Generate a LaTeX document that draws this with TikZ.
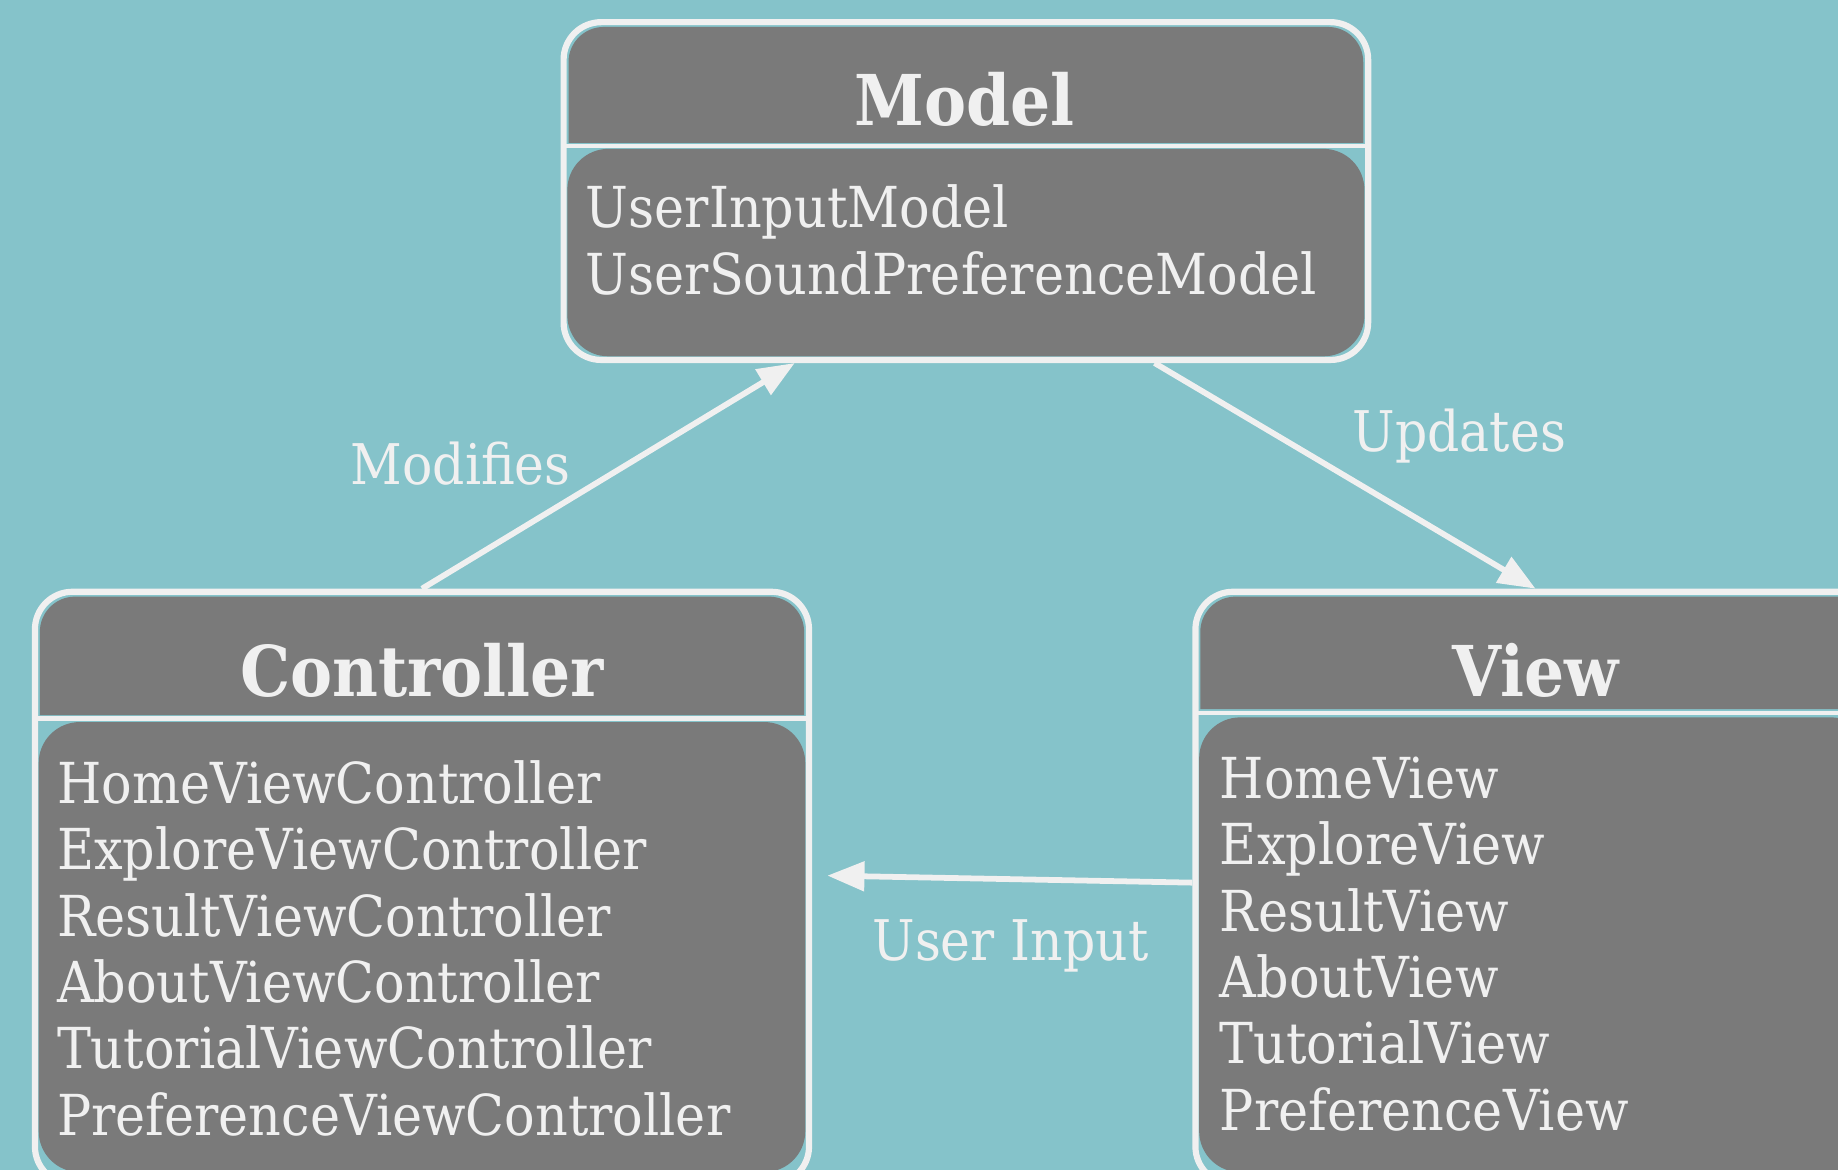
\documentclass[tikz,border=0pt]{standalone}
\usepackage{fontspec}
\setmainfont{DejaVu Serif}[FakeStretch=0.9]
\usetikzlibrary{arrows.meta,calc}

\definecolor{bgteal}{HTML}{85C3CA}
\definecolor{boxgray}{HTML}{7A7A7A}
\definecolor{chalk}{HTML}{F0F0F0}

\tikzset{
  classframe/.style={draw=chalk, line width=1.5pt, rounded corners=0.32cm, inner sep=0pt},
  classtitle/.style={text=chalk, font=\fontsize{17}{20}\selectfont\bfseries},
  classlist/.style={text=chalk, inner sep=0pt, anchor=north west, align=left,
    font=\fontsize{13.7}{16.1}\selectfont},
  flow/.style={draw=chalk, line width=1.4pt, -{Triangle[length=9pt,width=7pt]}},
  flowlabel/.style={text=chalk, anchor=base, font=\fontsize{13.6}{16}\selectfont}
}

\begin{document}
\begin{tikzpicture}[x=0.01cm, y=-0.01cm]
  % background
  \fill[bgteal] (0,0) rectangle (1568,998);
  \useasboundingbox (0,0) rectangle (1568,998);

  % Model
  \fill[boxgray, rounded corners=0.3cm] (485,122) -- (485,23) -- (1163,23) -- (1163,122);
  \fill[boxgray, rounded corners=0.35cm] (484,127) rectangle (1164,304);
  \node[classframe, minimum width=6.86cm, minimum height=2.88cm] (model) at (824,163) {};
  \draw[chalk, line width=1pt] (481,124.5) -- (1167,124.5);
  \node[classtitle] (modelttl) at (823,85) {Model};
  \node[classlist] (modellist) at (499,157) {UserInputModel\\UserSoundPreferenceModel};

  % Controller
  \fill[boxgray, rounded corners=0.3cm] (34,610) -- (34,509) -- (686,509) -- (686,610);
  \fill[boxgray, rounded corners=0.35cm] (33,616) rectangle (687,1000);
  \node[classframe, minimum width=6.60cm, minimum height=5.05cm] (ctrl) at (360,757.5) {};
  \draw[chalk, line width=1pt] (30,613) -- (690,613);
  \node[classtitle] (ctrlttl) at (360,572) {Controller};
  \node[classlist] (ctrllist) at (48,648) {HomeViewController\\ExploreViewController\\ResultViewController\\AboutViewController\\TutorialViewController\\PreferenceViewController};

  % View
  \fill[boxgray, rounded corners=0.3cm] (1024,605) -- (1024,509) -- (1596,509) -- (1596,605);
  \fill[boxgray, rounded corners=0.35cm] (1023,612) rectangle (1597,1000);
  \node[classframe, minimum width=5.80cm, minimum height=5.05cm] (view) at (1310,757.5) {};
  \draw[chalk, line width=1pt] (1020,608) -- (1600,608);
  \node[classtitle] (viewttl) at (1310,572) {View};
  \node[classlist] (viewlist) at (1040,645) {HomeView\\ExploreView\\ResultView\\AboutView\\TutorialView\\PreferenceView};

  % connectors
  \draw[flow] (ctrl.north) -- ($(model.south)+(-146,0)$);
  \draw[flow] ($(model.south)+(161,0)$) -- (view.north);
  \draw[flow] ($(view.west)+(0,-4.5)$) -- ($(ctrl.east)+(13,-10.5)$);

  \node[flowlabel] (modlbl) at (393,413) {Modifies};
  \node[flowlabel] (updlbl) at (1245,385) {Updates};
  \node[flowlabel] (inlbl) at (862,819) {User Input};
\end{tikzpicture}
\end{document}
